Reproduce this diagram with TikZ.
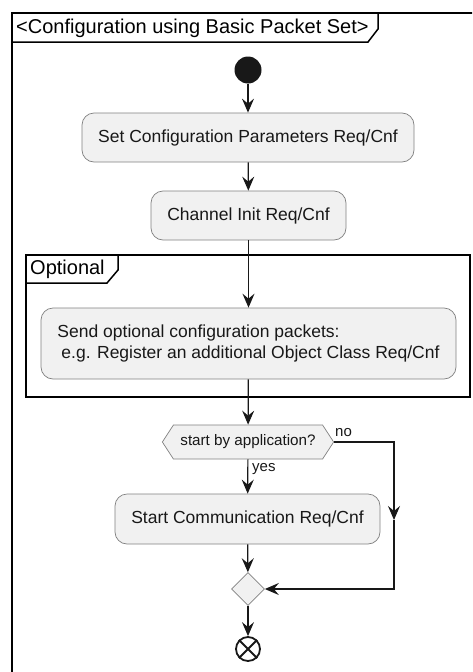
\documentclass[tikz,border=0pt]{standalone}
\usepackage{fontspec}
\setmainfont{Liberation Sans}
\usetikzlibrary{arrows.meta,shapes.geometric,shapes.symbols}

\definecolor{ink}{HTML}{181818}
\definecolor{actfill}{HTML}{F1F1F1}
\definecolor{actline}{HTML}{808080}

\tikzset{
  act/.style={draw=actline, fill=actfill, line width=0.7pt, rounded corners=12pt,
    inner sep=0pt, text=ink, font=\fontsize{17.5}{20.5}\selectfont},
  flow/.style={draw=ink, line width=1.2pt, -{Stealth[length=14pt,width=12pt,inset=5pt]}},
  frame/.style={draw=black, line width=1.5pt},
  frametitle/.style={inner sep=0pt, text=black, font=\fontsize{20}{22}\selectfont},
  decision/.style={signal, signal to=east and west, signal pointer angle=114,
    draw=actline, fill=actfill, line width=0.7pt, inner xsep=7pt, inner ysep=0pt,
    minimum height=34pt, text=ink, font=\fontsize{15.2}{18}\selectfont},
  merge/.style={diamond, draw=actline, fill=actfill, line width=0.7pt,
    inner sep=0pt, minimum size=33pt},
  startdot/.style={circle, fill=ink, inner sep=0pt, minimum size=27pt},
  stopmark/.style={circle, draw=ink, line width=1.8pt, inner sep=0pt, minimum size=24pt},
  guard/.style={inner sep=0pt, text=ink, font=\fontsize{15}{18}\selectfont}
}

\begin{document}
\begin{tikzpicture}[x=1pt, y=-1pt]
\useasboundingbox (0,0) rectangle (472,672);
\clip (0,0) rectangle (472,672);

% outer frame
\draw[frame] (12,700) -- (12,13) -- (490,13);
\draw[frame] (12,42) -- (368,42) -- (378,29) -- (378,13);
\node[frametitle, anchor=west] (title) at (16,28) {<Configuration using Basic Packet Set>};

% activities
\node[startdot] (start) at (248,70) {};
\node[act, minimum width=332pt, minimum height=49pt] (setcfg) at (248,137.5) {Set Configuration Parameters Req/Cnf};
\node[act, minimum width=195pt, minimum height=49pt] (chinit) at (248.5,215.5) {Channel Init Req/Cnf};

% optional group
\draw[frame] (26,255) rectangle (470,397);
\draw[frame] (26,283) -- (107,283) -- (118,270) -- (118,255);
\node[frametitle, anchor=west] (opttitle) at (30,269) {Optional};
\node[act, minimum width=415pt, minimum height=71pt, align=left] (optpkt) at (248.5,343.5)
  {Send optional configuration packets:\\\hspace*{4pt}e.g. Register an additional Object Class Req/Cnf};

% decision
\node[decision] (dec) at (248,442) {start by application?};
\node[act, minimum width=265pt, minimum height=50pt] (startcomm) at (247.5,519) {Start Communication Req/Cnf};
\node[merge] (join) at (248,589) {};
\node[stopmark] (stop) at (248,649) {};
\draw[ink, line width=1.8pt] (stop.45) -- (stop.225) (stop.135) -- (stop.315);

\node[guard, anchor=west] (nolbl) at (335,433) {no};
\node[guard, anchor=west] (yeslbl) at (252,469) {yes};

\coordinate (nocorner) at (394,442);
\coordinate (nomid) at (394,520);
\coordinate (nobottom) at (394,589);

% connectors
\draw[flow] (start) -- (setcfg);
\draw[flow] (setcfg) -- (chinit);
\draw[flow] (chinit) -- (optpkt);
\draw[flow] (optpkt) -- (dec);
\draw[flow] (dec) -- (startcomm);
\draw[flow] (startcomm) -- (join);
\draw[flow] (join) -- (stop);
\draw[flow] (dec.east) -- (nocorner) -- (nomid);
\draw[flow] (nomid) -- (nobottom) -- (join.east);
\end{tikzpicture}
\end{document}
